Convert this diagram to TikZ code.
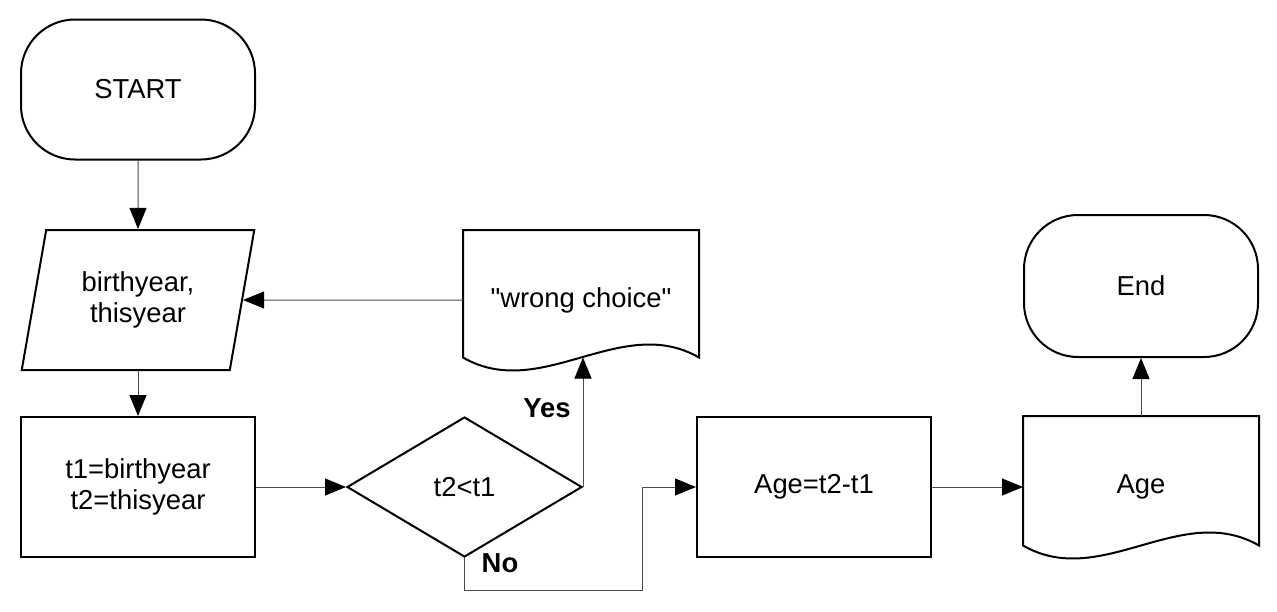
\documentclass[tikz,border=0pt]{standalone}
\usepackage{fontspec}
\setmainfont{Liberation Sans}[Ligatures=TeXOff]
\usetikzlibrary{shapes.geometric, shapes.misc, arrows.meta, calc}

\tikzset{
  box/.style={draw, line width=1pt, minimum width=117pt, minimum height=70pt, inner sep=2pt,
    align=center, font=\fontsize{13.7}{15.5}\selectfont},
  terminal/.style={box, rectangle, rounded corners=27pt},
  io/.style={box, trapezium, trapezium left angle=76, trapezium right angle=104, trapezium stretches=true},
  process/.style={box, rectangle},
  decision/.style={box, diamond, minimum width=117.5pt},
  docbox/.style={box, draw=none},
  flow/.style={draw=black!70, line width=0.5pt, -{Triangle[length=10.5pt,width=8.5pt,color=black]}},
  lbl/.style={font=\fontsize{13.7}{15.5}\selectfont\bfseries}
}

% document symbol: straight top and sides, wavy bottom
\newcommand{\docoutline}[1]{%
  \draw[line width=1pt] ($(#1.south west)+(0,-12.5)$) -- (#1.north west) -- (#1.north east) -- ($(#1.south east)+(0,-12.5)$)
    .. controls +(-78,-45) and +(78,45) .. ($(#1.south west)+(0,-12.5)$) coordinate[pos=0.5] (#1w) -- cycle;}

\begin{document}
\begin{tikzpicture}[x=0.5pt, y=-0.5pt]
\useasboundingbox (0,0) rectangle (1277,611);

\node[terminal] (start) at (138,89.5) {START};
\node[io] (input) at (138,300) {birthyear,\\thisyear};
\node[process] (proc) at (138,487) {t1=birthyear\\t2=thisyear};
\node[decision] (dia) at (464.5,487) {t2<t1};
\node[docbox, minimum height=69pt] (wrong) at (581,300) {"wrong choice"};
\node[process] (calc) at (814,487) {Age=t2-t1};
\node[docbox] (age) at (1141,487) {Age};
\node[terminal, minimum height=71pt] (stop) at (1141,286) {End};

\docoutline{wrong}
\docoutline{age}

\node[lbl] (yes) at (547,408) {Yes};
\node[lbl] (no) at (500,563) {No};

% connectors
\coordinate (noturn) at (642,590);
\draw[flow] (start) -- (input);
\draw[flow] (input) -- (proc);
\draw[flow] (proc.east) -- (dia.west);
\draw[flow] (dia.east) -- (dia.east |- wrongw);
\draw[flow] (wrong.west) -- (input.east);
\draw[flow] (dia.south) |- (noturn) |- (calc.west);
\draw[flow] (calc.east) -- (age.west);
\draw[flow] (age.north) -- (stop.south);
\end{tikzpicture}
\end{document}
